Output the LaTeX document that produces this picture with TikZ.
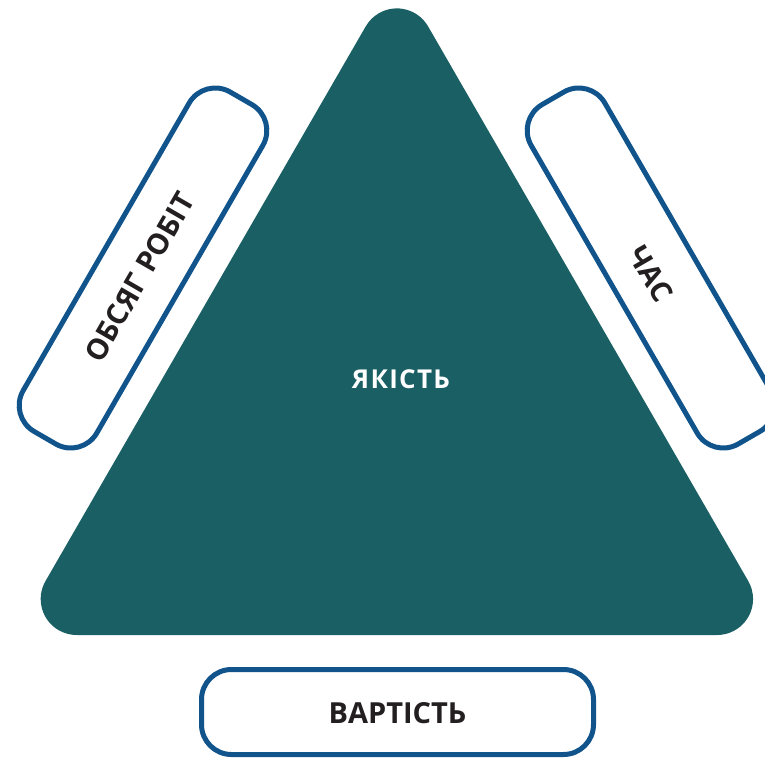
\documentclass[tikz,border=0pt]{standalone}
\usepackage{fontspec}
\setmainfont{Open Sans}
\definecolor{teal1}{HTML}{1A5F63}
\definecolor{frameblue}{HTML}{11548C}
\definecolor{inkdark}{HTML}{231F20}
\tikzset{
  sidebox/.style={draw=frameblue, line width=5pt, fill=white, rounded corners=30pt,
    minimum width=392pt, minimum height=85pt, inner sep=0pt},
  boxtext/.style={text=inkdark, inner sep=0pt, font=\fontsize{29pt}{34pt}\selectfont\bfseries},
  centrelabel/.style={text=white, inner sep=0pt,
    font=\fontsize{26pt}{30pt}\selectfont\bfseries\addfontfeature{LetterSpace=5}}
}
\begin{document}
\begin{tikzpicture}[x=1pt, y=-1pt]
  \useasboundingbox (0,0) rectangle (765,758);
  % quality triangle: equilateral, corners rounded with radius 36
  \fill[teal1] (76.7,635) -- (717.05,635)
      arc[start angle=90, end angle=-30, radius=36]
      -- (428.08,26.4)
      arc[start angle=-30, end angle=-150, radius=36]
      -- (45.52,581)
      arc[start angle=-150, end angle=-270, radius=36] -- cycle;
  \node[centrelabel] (quality) at (401,379.5) {ЯКІСТЬ};
  % the three constraints
  \node[sidebox, rotate=60] (scope) at (143,268) {};
  \node[boxtext, rotate=60] (scopetext) at (139.5,277) {ОБСЯГ РОБІТ};
  \node[sidebox, rotate=-60] (time) at (651,268) {};
  \node[boxtext, rotate=-60] (timetext) at (650.5,274) {ЧАС};
  \node[sidebox] (cost) at (397.5,712) {};
  \node[boxtext] (costtext) at (397.5,713) {ВАРТІСТЬ};
\end{tikzpicture}
\end{document}
